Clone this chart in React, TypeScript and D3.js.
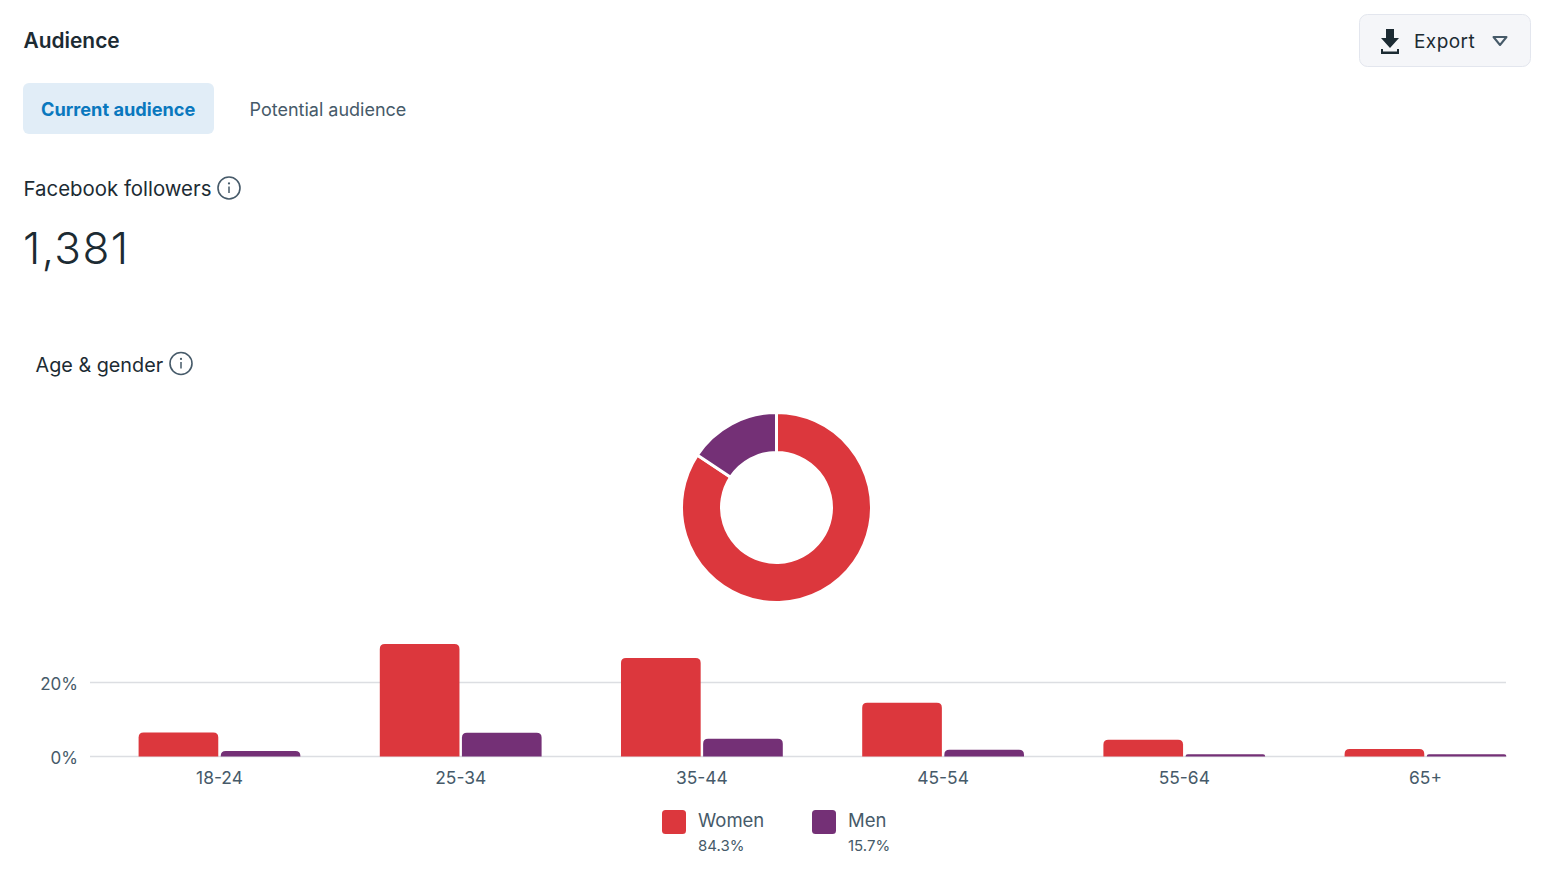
import React from "react";
import * as d3 from "d3";

const ageGroups = ["18-24", "25-34", "35-44", "45-54", "55-64", "65+"];
const womenValues = [6.5, 30.4, 26.6, 14.5, 4.5, 2.0];
const menValues = [1.5, 6.4, 4.8, 1.8, 0.6, 0.6];
const yTicks = [0, 20];
const genderLabels = ["Women", "Men"];
const genderShares = [84.3, 15.7];
const genderColors = ["#DC373D", "#743076"];

const FONT = "Inter, 'Noto Sans', sans-serif";
const INK = "#1c2b33";
const MUTED = "#465a69";

const x0 = d3.scaleBand<string>().domain(ageGroups).range([98.9, 1546.1]);
const xInner = d3.scaleBand<string>().domain(genderLabels).range([39.7, 201.5]).paddingInner(0.03);
const y = d3.scaleLinear().domain([0, 20]).range([756.5, 682.5]);

function topRounded(x: number, yTop: number, w: number, yBase: number, r: number) {
  const h = yBase - yTop;
  const rr = Math.min(r, h, w / 2);
  const p = d3.path();
  p.moveTo(x, yBase);
  p.lineTo(x, yTop + rr);
  p.quadraticCurveTo(x, yTop, x + rr, yTop);
  p.lineTo(x + w - rr, yTop);
  p.quadraticCurveTo(x + w, yTop, x + w, yTop + rr);
  p.lineTo(x + w, yBase);
  p.closePath();
  return p.toString();
}

const pie = d3.pie<number>().sort(null).value((d) => d);
const arc = d3.arc<d3.PieArcDatum<number>>().innerRadius(55).outerRadius(95);

function InfoIcon({ cx, cy }: { cx: number; cy: number }) {
  return (
    <g transform={`translate(${cx},${cy})`}>
      <circle r={11} fill="none" stroke={MUTED} strokeWidth={1.6} />
      <circle cy={-4.6} r={1.1} fill={MUTED} />
      <line y1={-1.5} y2={5} stroke={MUTED} strokeWidth={1.5} />
    </g>
  );
}

export default function App() {
  const series = [womenValues, menValues];
  return (
    <svg
      width={1548}
      height={891}
      style={{ position: "absolute", left: 0, top: 0, background: "#fff", fontFamily: FONT }}
    >
      <text x={23.5} y={47.5} fontSize={20.9} fontWeight={600} fill={INK}>Audience</text>

      <rect x={1359.5} y={14.5} width={171} height={52} rx={8} fill="#f5f6f9" stroke="#e3e6ee" />
      <path
        d="M1386 29h8v9h5l-9 10-9-10h5z M1381 49h2v2.5h14V49h2v5h-18z"
        fill={INK}
      />
      <text x={1414} y={48} fontSize={19} fill={INK} letterSpacing={0.45}>Export</text>
      <path d="M1493.5 37h13l-6.5 8z" fill="none" stroke={MUTED} strokeWidth={2} strokeLinejoin="round" />

      <rect x={23} y={83} width={191} height={51} rx={6} fill="#e1edf7" />
      <text x={41} y={116} fontSize={18.2} fontWeight={700} fill="#0a78be">Current audience</text>
      <text x={249.5} y={116} fontSize={18} fill={MUTED}>Potential audience</text>

      <text x={23.5} y={196} fontSize={20.4} fill={INK}>Facebook followers</text>
      <InfoIcon cx={229} cy={188} />
      <text x={23} y={264} fontSize={44} fontWeight={300} fill={INK} letterSpacing={1.4}>1,381</text>

      <text x={35.5} y={372} fontSize={19.8} fill={INK}>Age &amp; gender</text>
      <InfoIcon cx={181} cy={363.5} />

      <g transform="translate(776.5,507.5)">
        {pie(genderShares).map((d, i) => (
          <path key={genderLabels[i]} d={arc(d) ?? ""} fill={genderColors[i]} stroke="#fff" strokeWidth={3} />
        ))}
      </g>

      {yTicks.map((t) => (
        <g key={t}>
          <line x1={90} x2={1506} y1={y(t)} y2={y(t)} stroke="#dcdee2" strokeWidth={1.5} />
          <text x={78} y={y(t) + 7.5} textAnchor="end" fontSize={17} fill={MUTED}>{t}%</text>
        </g>
      ))}

      {ageGroups.map((g, i) => (
        <g key={g} transform={`translate(${x0(g)},0)`}>
          {genderLabels.map((s, k) => (
            <path
              key={s}
              d={topRounded(xInner(s)!, y(series[k][i]), xInner.bandwidth(), y(0), 5)}
              fill={genderColors[k]}
            />
          ))}
          <text x={x0.bandwidth() / 2} y={784} textAnchor="middle" fontSize={17.4} fill={MUTED}>{g}</text>
        </g>
      ))}

      {genderLabels.map((s, i) => {
        const lx = [662, 812][i];
        return (
          <g key={s}>
            <rect x={lx} y={810} width={24} height={24} rx={3.5} fill={genderColors[i]} />
            <text x={lx + 36} y={827} fontSize={18.5} fill={MUTED}>{s}</text>
            <text x={lx + 36} y={851} fontSize={15} fill={MUTED}>{genderShares[i]}%</text>
          </g>
        );
      })}
    </svg>
  );
}
